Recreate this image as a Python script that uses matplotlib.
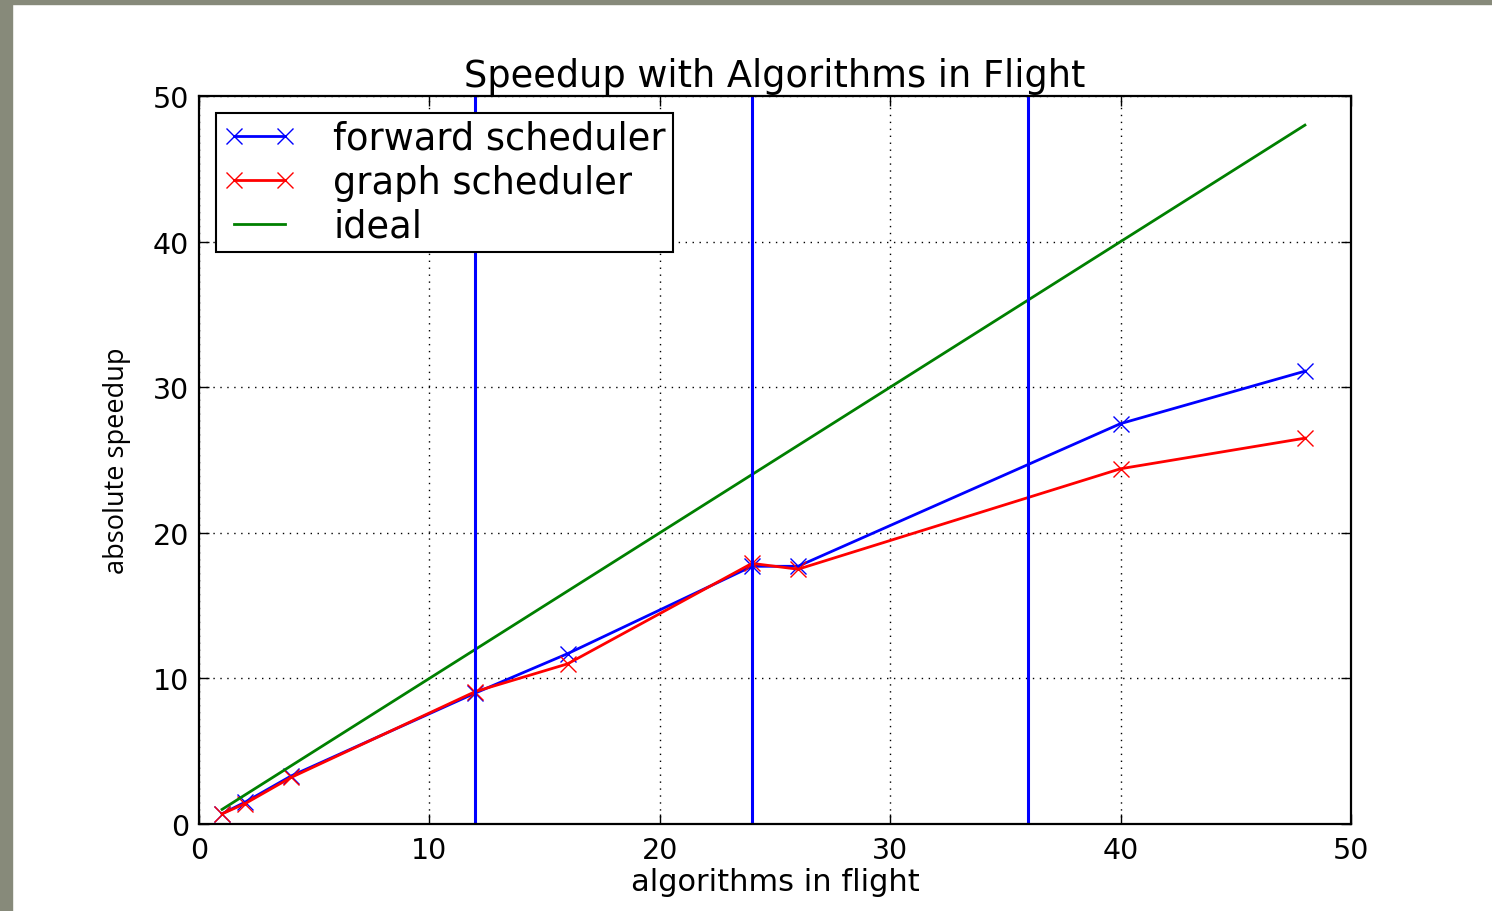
import matplotlib
matplotlib.use("Agg")
import matplotlib.pyplot as plt
from matplotlib.patches import Rectangle

# data
x_vals = [1, 2, 4, 12, 16, 24, 26, 40, 48]
forward = [0.7, 1.5, 3.3, 9.0, 11.7, 17.7, 17.7, 27.5, 31.1]
graph = [0.7, 1.4, 3.2, 9.1, 11.0, 17.9, 17.5, 24.4, 26.5]
ideal_x = [1, 48]
ideal_y = [1, 48]
vlines_x = [12, 24, 36]
xticks = [0, 10, 20, 30, 40, 50]
yticks = [0, 10, 20, 30, 40, 50]

plt.rcParams['font.family'] = ['DejaVu Sans']
fig = plt.figure(figsize=(14.92, 9.12), dpi=100)
fig.patch.set_facecolor('white')
border = '#878a7a'
fig.patches.append(Rectangle((0, 0), 12/1492, 1, transform=fig.transFigure, color=border, zorder=0))
fig.patches.append(Rectangle((0, 1 - 5/912), 1, 5/912, transform=fig.transFigure, color=border, zorder=0))

ax = fig.add_axes([199/1492, 1 - 825/912, (1351-199)/1492, (825-97)/912])

ax.plot(x_vals, forward, color='blue', marker='x', markersize=12, mew=1.0, lw=2.0, label='forward scheduler')
ax.plot(x_vals, graph, color='red', marker='x', markersize=12, mew=1.0, lw=2.0, label='graph scheduler')
ax.plot(ideal_x, ideal_y, color='green', lw=2.0, label='ideal')
for v in vlines_x:
    ax.axvline(v, color='blue', lw=2.2)

ax.set_xlim(0, 50)
ax.set_ylim(0, 50)
ax.set_xticks(xticks)
ax.set_yticks(yticks)
ax.grid(True, color='black', linestyle=(0, (1, 4)), lw=1.0)
ax.tick_params(direction='in', top=True, right=True, length=7, width=1, labelsize=20.5, pad=7, colors='black')
ax.tick_params(axis='x', pad=9)
for s in ax.spines.values():
    s.set_linewidth(1.6)
    s.set_color('black')

ax.set_title('Speedup with Algorithms in Flight', fontsize=26.5, pad=7)
ax.set_xlabel('algorithms in flight', fontsize=22, labelpad=2)
ax.set_ylabel('absolute speedup', fontsize=19.5, family=['Open Sans', 'DejaVu Sans'], labelpad=16)

leg = ax.legend(loc='upper left', fontsize=26.5, numpoints=2, fancybox=False, edgecolor='black',
                framealpha=1, borderaxespad=0.45, handlelength=2.0, handletextpad=1.0, borderpad=0.2,
                labelspacing=0.19)
leg.get_frame().set_linewidth(1.5)

fig.savefig('out.png', dpi=100)
